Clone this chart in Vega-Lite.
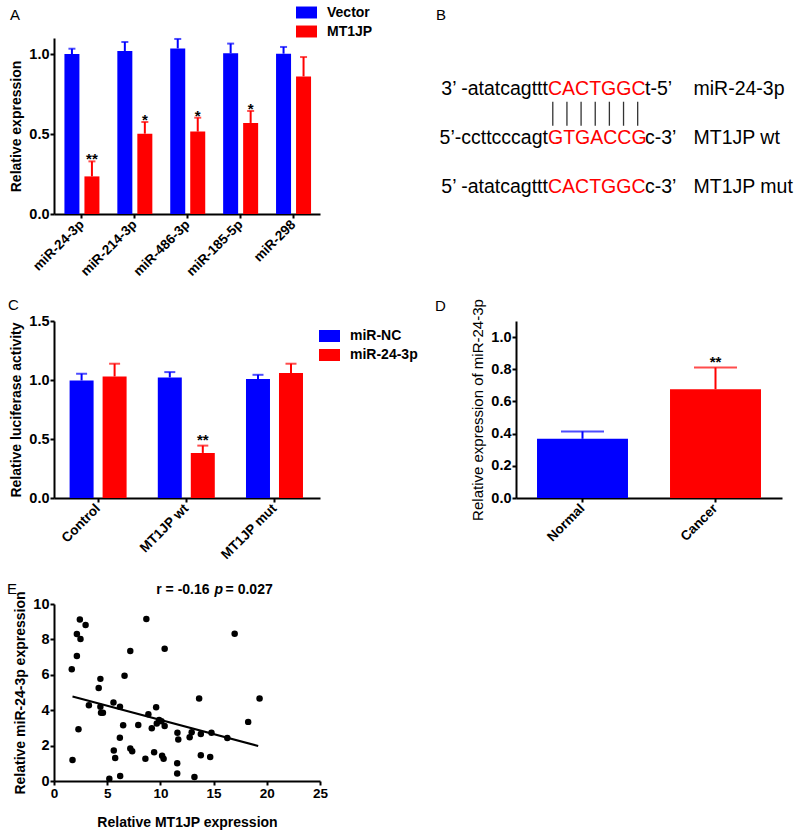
{
  "$schema": "https://vega.github.io/schema/vega-lite/v6.json",
  "background": "white",
  "padding": {"left": 7, "top": 2, "right": 5, "bottom": 5},
  "datasets": {
    "panelA": [
      {"miRNA": "miR-24-3p", "group": "Vector", "mean": 1.0, "upper": 1.033, "sig": ""},
      {"miRNA": "miR-24-3p", "group": "MT1JP", "mean": 0.235, "upper": 0.329, "sig": "**"},
      {"miRNA": "miR-214-3p", "group": "Vector", "mean": 1.019, "upper": 1.075, "sig": ""},
      {"miRNA": "miR-214-3p", "group": "MT1JP", "mean": 0.502, "upper": 0.575, "sig": "*"},
      {"miRNA": "miR-486-3p", "group": "Vector", "mean": 1.035, "upper": 1.094, "sig": ""},
      {"miRNA": "miR-486-3p", "group": "MT1JP", "mean": 0.515, "upper": 0.602, "sig": "*"},
      {"miRNA": "miR-185-5p", "group": "Vector", "mean": 1.004, "upper": 1.065, "sig": ""},
      {"miRNA": "miR-185-5p", "group": "MT1JP", "mean": 0.569, "upper": 0.644, "sig": "*"},
      {"miRNA": "miR-298", "group": "Vector", "mean": 1.002, "upper": 1.044, "sig": ""},
      {"miRNA": "miR-298", "group": "MT1JP", "mean": 0.86, "upper": 0.981, "sig": ""}
    ],
    "panelB": [
      {"line": 1, "column": "site", "side": "before", "role": "flank", "text": "3’ -atatcagttt"},
      {"line": 1, "column": "site", "side": "after", "role": "site", "text": "CACTGGC"},
      {"line": 1, "column": "tail", "side": "after", "role": "flank", "text": "t-5’"},
      {"line": 1, "column": "name", "side": "after", "role": "flank", "text": "miR-24-3p"},
      {"line": 2, "column": "site", "side": "before", "role": "flank", "text": "5’-ccttcccagt"},
      {"line": 2, "column": "site", "side": "after", "role": "site", "text": "GTGACCG"},
      {"line": 2, "column": "tail", "side": "after", "role": "flank", "text": "c-3’"},
      {"line": 2, "column": "name", "side": "after", "role": "flank", "text": "MT1JP wt"},
      {"line": 3, "column": "site", "side": "before", "role": "flank", "text": "5’ -atatcagttt"},
      {"line": 3, "column": "site", "side": "after", "role": "site", "text": "CACTGGC"},
      {"line": 3, "column": "tail", "side": "after", "role": "flank", "text": "c-3’"},
      {"line": 3, "column": "name", "side": "after", "role": "flank", "text": "MT1JP mut"}
    ],
    "pairs": [{"pair": 1}, {"pair": 2}, {"pair": 3}, {"pair": 4}, {"pair": 5}, {"pair": 6}, {"pair": 7}],
    "panelC": [
      {"construct": "Control", "group": "miR-NC", "mean": 0.996, "upper": 1.053, "sig": ""},
      {"construct": "Control", "group": "miR-24-3p", "mean": 1.03, "upper": 1.138, "sig": ""},
      {"construct": "MT1JP wt", "group": "miR-NC", "mean": 1.022, "upper": 1.067, "sig": ""},
      {"construct": "MT1JP wt", "group": "miR-24-3p", "mean": 0.382, "upper": 0.444, "sig": "**"},
      {"construct": "MT1JP mut", "group": "miR-NC", "mean": 1.008, "upper": 1.044, "sig": ""},
      {"construct": "MT1JP mut", "group": "miR-24-3p", "mean": 1.059, "upper": 1.138, "sig": ""}
    ],
    "panelD": [
      {"tissue": "Normal", "mean": 0.368, "upper": 0.414, "sig": ""},
      {"tissue": "Cancer", "mean": 0.676, "upper": 0.811, "sig": "**"}
    ],
    "panelE": [
      {"mt1jp": 1.67, "mir": 6.32}, {"mt1jp": 1.74, "mir": 1.19}, {"mt1jp": 2.15, "mir": 7.06},
      {"mt1jp": 2.15, "mir": 8.3}, {"mt1jp": 2.43, "mir": 9.13}, {"mt1jp": 2.49, "mir": 8.02},
      {"mt1jp": 2.97, "mir": 8.81}, {"mt1jp": 2.3, "mir": 2.92}, {"mt1jp": 3.28, "mir": 4.28},
      {"mt1jp": 4.2, "mir": 5.25}, {"mt1jp": 4.36, "mir": 5.77}, {"mt1jp": 4.36, "mir": 4.19},
      {"mt1jp": 4.42, "mir": 3.85}, {"mt1jp": 4.6, "mir": 3.85}, {"mt1jp": 5.2, "mir": 0.13},
      {"mt1jp": 5.59, "mir": 4.43}, {"mt1jp": 5.62, "mir": 1.72}, {"mt1jp": 5.75, "mir": 1.3},
      {"mt1jp": 6.2, "mir": 4.19}, {"mt1jp": 6.19, "mir": 2.45}, {"mt1jp": 6.22, "mir": 0.28},
      {"mt1jp": 6.5, "mir": 3.15}, {"mt1jp": 6.63, "mir": 5.94}, {"mt1jp": 7.17, "mir": 7.34},
      {"mt1jp": 7.17, "mir": 1.83}, {"mt1jp": 7.35, "mir": 1.68}, {"mt1jp": 7.92, "mir": 3.17},
      {"mt1jp": 8.68, "mir": 9.15}, {"mt1jp": 8.59, "mir": 1.26}, {"mt1jp": 8.87, "mir": 3.77},
      {"mt1jp": 9.19, "mir": 2.98}, {"mt1jp": 9.41, "mir": 1.62}, {"mt1jp": 9.6, "mir": 4.17},
      {"mt1jp": 9.66, "mir": 3.25}, {"mt1jp": 9.88, "mir": 3.45}, {"mt1jp": 10.1, "mir": 3.38},
      {"mt1jp": 10.16, "mir": 1.43}, {"mt1jp": 10.3, "mir": 1.26}, {"mt1jp": 10.4, "mir": 7.47},
      {"mt1jp": 10.4, "mir": 3.11}, {"mt1jp": 11.58, "mir": 1.0}, {"mt1jp": 11.58, "mir": 0.42},
      {"mt1jp": 11.6, "mir": 2.72}, {"mt1jp": 11.68, "mir": 2.34}, {"mt1jp": 12.75, "mir": 2.47},
      {"mt1jp": 12.94, "mir": 2.75}, {"mt1jp": 13.2, "mir": 0.23}, {"mt1jp": 13.64, "mir": 4.66},
      {"mt1jp": 13.8, "mir": 2.66}, {"mt1jp": 13.8, "mir": 1.45}, {"mt1jp": 14.68, "mir": 1.36},
      {"mt1jp": 14.8, "mir": 2.72}, {"mt1jp": 16.29, "mir": 2.43}, {"mt1jp": 16.98, "mir": 8.32},
      {"mt1jp": 18.25, "mir": 3.34}, {"mt1jp": 19.32, "mir": 4.66}
    ],
    "fit": [{"mt1jp": 1.74, "mir": 4.77}, {"mt1jp": 19.19, "mir": 1.98}],
    "annot": [
      {"piece": "r", "label": "r = -0.16"},
      {"piece": "p", "label": "p"},
      {"piece": "pv", "label": "= 0.027"}
    ]
  },
  "concat": [
    {
      "width": 266, "height": 176,
      "title": {"text": "A", "dx": -44, "dy": 33},
      "data": {"name": "panelA"},
      "encoding": {
        "x": {"field": "miRNA", "type": "nominal", "sort": null,
              "scale": {"type": "band", "paddingInner": 0, "paddingOuter": 0.014, "align": 1},
              "axis": {"title": null, "labelAngle": -45, "labelAlign": "right", "labelBaseline": "middle", "labelPadding": 4}},
        "color": {"field": "group", "type": "nominal", "sort": ["Vector", "MT1JP"],
                  "scale": {"domain": ["Vector", "MT1JP"], "range": ["#0000FF", "#FF0000"]},
                  "legend": {"title": null, "orient": "none", "legendX": 242, "legendY": -36, "symbolType": "M-1,-0.57H1V0.57H-1Z"}}
      },
      "layer": [
        {"transform": [{"filter": "datum.group === 'Vector'"}],
         "mark": {"type": "bar", "width": 15, "xOffset": -10},
         "encoding": {"y": {"field": "mean", "type": "quantitative", "scale": {"domain": [0, 1.1], "nice": false},
                            "axis": {"title": "Relative expression", "values": [0, 0.5, 1], "format": ".1f", "labelOverlap": false}}}},
        {"transform": [{"filter": "datum.group === 'MT1JP'"}],
         "mark": {"type": "bar", "width": 15, "xOffset": 10},
         "encoding": {"y": {"field": "mean", "type": "quantitative",
                            "axis": {"title": "Relative expression", "values": [0, 0.5, 1], "format": ".1f", "labelOverlap": false}}}},
        {"transform": [{"filter": "datum.group === 'Vector'"}],
         "mark": {"type": "rule", "strokeWidth": 2, "xOffset": -10},
         "encoding": {"y": {"field": "mean", "type": "quantitative",
                            "axis": {"title": "Relative expression", "values": [0, 0.5, 1], "format": ".1f", "labelOverlap": false}}, "y2": {"field": "upper"}}},
        {"transform": [{"filter": "datum.group === 'MT1JP'"}],
         "mark": {"type": "rule", "strokeWidth": 2, "xOffset": 10},
         "encoding": {"y": {"field": "mean", "type": "quantitative",
                            "axis": {"title": "Relative expression", "values": [0, 0.5, 1], "format": ".1f", "labelOverlap": false}}, "y2": {"field": "upper"}}},
        {"transform": [{"filter": "datum.group === 'Vector'"}],
         "mark": {"type": "tick", "thickness": 2, "size": 7, "xOffset": -10},
         "encoding": {"y": {"field": "upper", "type": "quantitative",
                            "axis": {"title": "Relative expression", "values": [0, 0.5, 1], "format": ".1f", "labelOverlap": false}}}},
        {"transform": [{"filter": "datum.group === 'MT1JP'"}],
         "mark": {"type": "tick", "thickness": 2, "size": 7, "xOffset": 10},
         "encoding": {"y": {"field": "upper", "type": "quantitative",
                            "axis": {"title": "Relative expression", "values": [0, 0.5, 1], "format": ".1f", "labelOverlap": false}}}},
        {"transform": [{"filter": "datum.group === 'MT1JP'"}],
         "mark": {"type": "text", "fontSize": 15, "fontWeight": "bold", "baseline": "alphabetic", "dy": 3, "xOffset": 10},
         "encoding": {"y": {"field": "upper", "type": "quantitative",
                            "axis": {"title": "Relative expression", "values": [0, 0.5, 1], "format": ".1f", "labelOverlap": false}},
                      "text": {"field": "sig"}, "color": {"value": "#000000"}}}
      ]
    },
    {
      "width": 266, "height": 176,
      "title": {"text": "B", "dx": -80, "dy": -3},
      "resolve": {"scale": {"x": "independent"}},
      "layer": [
        {
          "data": {"name": "panelB"},
          "encoding": {
            "x": {"field": "column", "type": "ordinal",
                  "scale": {"type": "point", "domain": ["site", "gap", "tail", "name", "end"], "padding": 0.742, "align": 0.444},
                  "axis": null},
            "y": {"field": "line", "type": "quantitative",
                  "scale": {"domain": [-0.16, 3.43], "reverse": true, "nice": false, "zero": false}, "axis": null},
            "text": {"field": "text"},
            "color": {"field": "role", "type": "nominal",
                      "scale": {"domain": ["flank", "site"], "range": ["#000000", "#FF0000"]}, "legend": null}
          },
          "layer": [
            {"transform": [{"filter": "datum.side === 'before'"}],
             "mark": {"type": "text", "align": "right", "baseline": "alphabetic", "fontSize": 19.5, "fontWeight": "normal"}},
            {"transform": [{"filter": "datum.side === 'after'"}],
             "mark": {"type": "text", "align": "left", "baseline": "alphabetic", "fontSize": 19.5, "fontWeight": "normal"}}
          ]
        },
        {
          "data": {"name": "pairs"},
          "mark": {"type": "rule", "color": "#333333", "strokeWidth": 1.3},
          "encoding": {
            "x": {"field": "pair", "type": "quantitative", "scale": {"domain": [-1.6, 17.2], "nice": false, "zero": false}, "axis": null},
            "y": {"datum": 1.14, "type": "quantitative", "axis": null},
            "y2": {"datum": 1.63}
          }
        }
      ]
    },
    {
      "width": 266, "height": 177,
      "title": {"text": "C", "dx": -46, "dy": 12},
      "data": {"name": "panelC"},
      "encoding": {
        "x": {"field": "construct", "type": "nominal", "sort": null,
              "scale": {"type": "band", "paddingInner": 0, "paddingOuter": 0.008, "align": 0},
              "axis": {"title": null, "labelAngle": -45, "labelAlign": "right", "labelBaseline": "middle", "labelPadding": 4}},
        "color": {"field": "group", "type": "nominal", "sort": ["miR-NC", "miR-24-3p"],
                  "scale": {"domain": ["miR-NC", "miR-24-3p"], "range": ["#0000FF", "#FF0000"]},
                  "legend": {"title": null, "orient": "none", "legendX": 265, "legendY": 4.5, "symbolType": "M-1,-0.57H1V0.57H-1Z"}}
      },
      "layer": [
        {"transform": [{"filter": "datum.group === 'miR-NC'"}],
         "mark": {"type": "bar", "width": 24, "xOffset": -16.5},
         "encoding": {"y": {"field": "mean", "type": "quantitative", "scale": {"domain": [0, 1.5], "nice": false},
                            "axis": {"title": "Relative luciferase activity", "values": [0, 0.5, 1, 1.5], "format": ".1f", "labelOverlap": false}}}},
        {"transform": [{"filter": "datum.group === 'miR-24-3p'"}],
         "mark": {"type": "bar", "width": 24, "xOffset": 16.5},
         "encoding": {"y": {"field": "mean", "type": "quantitative",
                            "axis": {"title": "Relative luciferase activity", "values": [0, 0.5, 1, 1.5], "format": ".1f", "labelOverlap": false}}}},
        {"transform": [{"filter": "datum.group === 'miR-NC'"}],
         "mark": {"type": "rule", "strokeWidth": 2, "xOffset": -16.5},
         "encoding": {"y": {"field": "mean", "type": "quantitative",
                            "axis": {"title": "Relative luciferase activity", "values": [0, 0.5, 1, 1.5], "format": ".1f", "labelOverlap": false}}, "y2": {"field": "upper"}}},
        {"transform": [{"filter": "datum.group === 'miR-24-3p'"}],
         "mark": {"type": "rule", "strokeWidth": 2, "xOffset": 16.5},
         "encoding": {"y": {"field": "mean", "type": "quantitative",
                            "axis": {"title": "Relative luciferase activity", "values": [0, 0.5, 1, 1.5], "format": ".1f", "labelOverlap": false}}, "y2": {"field": "upper"}}},
        {"transform": [{"filter": "datum.group === 'miR-NC'"}],
         "mark": {"type": "tick", "thickness": 2, "size": 11, "xOffset": -16.5},
         "encoding": {"y": {"field": "upper", "type": "quantitative",
                            "axis": {"title": "Relative luciferase activity", "values": [0, 0.5, 1, 1.5], "format": ".1f", "labelOverlap": false}}}},
        {"transform": [{"filter": "datum.group === 'miR-24-3p'"}],
         "mark": {"type": "tick", "thickness": 2, "size": 11, "xOffset": 16.5},
         "encoding": {"y": {"field": "upper", "type": "quantitative",
                            "axis": {"title": "Relative luciferase activity", "values": [0, 0.5, 1, 1.5], "format": ".1f", "labelOverlap": false}}}},
        {"transform": [{"filter": "datum.group === 'miR-24-3p'"}],
         "mark": {"type": "text", "fontSize": 15, "fontWeight": "bold", "baseline": "alphabetic", "dy": -1, "xOffset": 16.5},
         "encoding": {"y": {"field": "upper", "type": "quantitative",
                            "axis": {"title": "Relative luciferase activity", "values": [0, 0.5, 1, 1.5], "format": ".1f", "labelOverlap": false}},
                      "text": {"field": "sig"}, "color": {"value": "#000000"}}}
      ]
    },
    {
      "width": 266, "height": 177,
      "title": {"text": "D", "dx": -81, "dy": 27},
      "data": {"name": "panelD"},
      "encoding": {
        "x": {"field": "tissue", "type": "nominal", "sort": null,
              "scale": {"type": "band", "paddingInner": 0.316, "paddingOuter": 0.158},
              "axis": {"title": null, "labelAngle": -45, "labelAlign": "right", "labelBaseline": "middle", "labelPadding": 4}},
        "color": {"field": "tissue", "type": "nominal",
                  "scale": {"domain": ["Normal", "Cancer"], "range": ["#0000FF", "#FF0000"]}, "legend": null}
      },
      "layer": [
        {"mark": {"type": "bar"},
         "encoding": {"y": {"field": "mean", "type": "quantitative", "scale": {"domain": [0, 1.1], "nice": false},
                            "axis": {"title": "Relative expression of miR-24-3p", "titleFontWeight": "normal", "titleFontSize": 15,
                                     "values": [0, 0.2, 0.4, 0.6, 0.8, 1.0], "format": ".1f", "labelOverlap": false}}}},
        {"mark": {"type": "rule", "strokeWidth": 2},
         "encoding": {"y": {"field": "mean", "type": "quantitative",
                            "axis": {"title": "Relative expression of miR-24-3p", "titleFontWeight": "normal", "titleFontSize": 15,
                                     "values": [0, 0.2, 0.4, 0.6, 0.8, 1.0], "format": ".1f", "labelOverlap": false}}, "y2": {"field": "upper"}}},
        {"mark": {"type": "tick", "thickness": 2, "size": 43},
         "encoding": {"y": {"field": "upper", "type": "quantitative",
                            "axis": {"title": "Relative expression of miR-24-3p", "titleFontWeight": "normal", "titleFontSize": 15,
                                     "values": [0, 0.2, 0.4, 0.6, 0.8, 1.0], "format": ".1f", "labelOverlap": false}}}},
        {"mark": {"type": "text", "fontSize": 15, "fontWeight": "bold", "baseline": "alphabetic", "dy": -1},
         "encoding": {"y": {"field": "upper", "type": "quantitative",
                            "axis": {"title": "Relative expression of miR-24-3p", "titleFontWeight": "normal", "titleFontSize": 15,
                                     "values": [0, 0.2, 0.4, 0.6, 0.8, 1.0], "format": ".1f", "labelOverlap": false}},
                      "text": {"field": "sig"}, "color": {"value": "#000000"}}}
      ]
    },
    {
      "width": 266, "height": 177,
      "title": {"text": "E", "dx": -47, "dy": 26},
      "layer": [
        {"data": {"name": "panelE"},
         "mark": {"type": "circle", "size": 42, "opacity": 1, "color": "#000000"},
         "encoding": {
           "x": {"field": "mt1jp", "type": "quantitative", "scale": {"domain": [0, 25], "nice": false},
                 "axis": {"title": "Relative MT1JP expression", "values": [0, 5, 10, 15, 20, 25], "labelFlush": false, "labelOverlap": false, "titlePadding": 16}},
           "y": {"field": "mir", "type": "quantitative", "scale": {"domain": [0, 10], "nice": false},
                 "axis": {"title": "Relative miR-24-3p expression", "values": [0, 2, 4, 6, 8, 10], "labelOverlap": false}}
         }},
        {"data": {"name": "fit"},
         "mark": {"type": "line", "color": "#000000", "strokeWidth": 2},
         "encoding": {
           "x": {"field": "mt1jp", "type": "quantitative",
                 "axis": {"title": "Relative MT1JP expression", "values": [0, 5, 10, 15, 20, 25], "labelFlush": false, "labelOverlap": false, "titlePadding": 16}},
           "y": {"field": "mir", "type": "quantitative",
                 "axis": {"title": "Relative miR-24-3p expression", "values": [0, 2, 4, 6, 8, 10], "labelOverlap": false}}}},
        {"data": {"name": "annot"},
         "transform": [{"filter": "datum.piece === 'r'"}],
         "mark": {"type": "text", "fontSize": 14, "fontWeight": "bold", "align": "right", "baseline": "middle", "dx": -4, "color": "#000000"},
         "encoding": {
           "x": {"datum": 15, "type": "quantitative",
                 "axis": {"title": "Relative MT1JP expression", "values": [0, 5, 10, 15, 20, 25], "labelFlush": false, "labelOverlap": false, "titlePadding": 16}},
           "y": {"datum": 10.8, "type": "quantitative",
                 "axis": {"title": "Relative miR-24-3p expression", "values": [0, 2, 4, 6, 8, 10], "labelOverlap": false}},
           "text": {"field": "label"}}},
        {"data": {"name": "annot"},
         "transform": [{"filter": "datum.piece === 'p'"}],
         "mark": {"type": "text", "fontSize": 14, "fontWeight": "bold", "fontStyle": "italic", "align": "left", "baseline": "middle", "dx": 1, "color": "#000000"},
         "encoding": {
           "x": {"datum": 15, "type": "quantitative",
                 "axis": {"title": "Relative MT1JP expression", "values": [0, 5, 10, 15, 20, 25], "labelFlush": false, "labelOverlap": false, "titlePadding": 16}},
           "y": {"datum": 10.8, "type": "quantitative",
                 "axis": {"title": "Relative miR-24-3p expression", "values": [0, 2, 4, 6, 8, 10], "labelOverlap": false}},
           "text": {"field": "label"}}},
        {"data": {"name": "annot"},
         "transform": [{"filter": "datum.piece === 'pv'"}],
         "mark": {"type": "text", "fontSize": 14, "fontWeight": "bold", "align": "left", "baseline": "middle", "dx": 12, "color": "#000000"},
         "encoding": {
           "x": {"datum": 15, "type": "quantitative",
                 "axis": {"title": "Relative MT1JP expression", "values": [0, 5, 10, 15, 20, 25], "labelFlush": false, "labelOverlap": false, "titlePadding": 16}},
           "y": {"datum": 10.8, "type": "quantitative",
                 "axis": {"title": "Relative miR-24-3p expression", "values": [0, 2, 4, 6, 8, 10], "labelOverlap": false}},
           "text": {"field": "label"}}}
      ]
    }
  ],
  "columns": 2,
  "spacing": {"row": 106, "column": 196},
  "bounds": "flush",
  "align": "all",
  "resolve": {"scale": {"color": "independent", "x": "independent", "y": "independent"}, "legend": {"color": "independent"}},
  "config": {
    "font": "Liberation Sans",
    "view": {"stroke": null},
    "axis": {
      "domainColor": "#000000", "domainWidth": 2, "tickColor": "#000000", "tickWidth": 2, "tickSize": 4,
      "labelFont": "Liberation Sans", "labelFontSize": 13.5, "labelFontWeight": "bold", "labelColor": "#000000", "labelPadding": 1,
      "labelOverlap": false, "labelFlush": false,
      "titleFont": "Liberation Sans", "titleFontSize": 14, "titleFontWeight": "bold", "titleColor": "#000000", "titlePadding": 5,
      "grid": false
    },
    "axisY": {"labelFontSize": 14.5},
    "legend": {
      "labelFont": "Liberation Sans", "labelFontSize": 14, "labelFontWeight": "bold", "labelColor": "#000000",
      "labelOffset": 10, "symbolSize": 441, "symbolStrokeWidth": 0, "symbolOpacity": 1, "rowPadding": 1, "padding": 0
    },
    "title": {"font": "Liberation Sans", "fontSize": 15, "fontWeight": "normal", "anchor": "start", "frame": "group", "color": "#000000", "offset": 12}
  }
}
